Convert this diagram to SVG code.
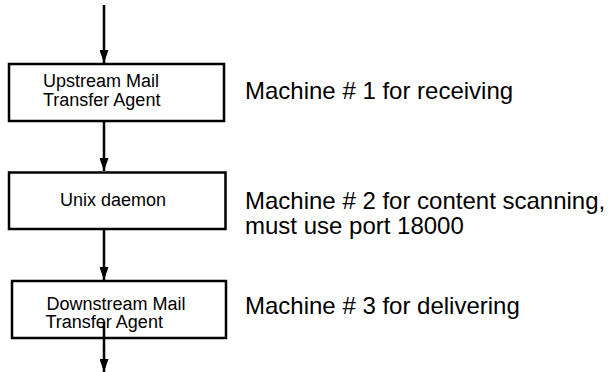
<svg xmlns="http://www.w3.org/2000/svg" width="608" height="372" viewBox="0 0 608 372">
<defs>
<style>
.box{fill:#fff;stroke:#000;stroke-width:2.5}
.bt{font-family:"Liberation Sans",Arial,sans-serif;font-size:18px;fill:#000}
.mt{font-family:"Liberation Sans",Arial,sans-serif;font-size:24px;fill:#000}
.edge{stroke:#000;stroke-width:2.5;fill:none;marker-end:url(#ah)}
</style>
<marker id="ah" markerWidth="5.2" markerHeight="3.6" refX="5.2" refY="1.8" orient="auto" markerUnits="strokeWidth">
<path d="M0,0 L5.2,1.8 L0,3.6 Z" fill="#000"/>
</marker>
</defs>
<g id="connectors">
<line class="edge" x1="104" y1="5" x2="104" y2="63"/>
<line class="edge" x1="104" y1="121" x2="104" y2="171"/>
<line class="edge" x1="104" y1="230" x2="104" y2="280"/>
<line class="edge" x1="104" y1="322" x2="104" y2="372"/>
</g>
<g id="node-upstream">
<rect class="box" x="9" y="64" width="215" height="57"/>
<text class="bt" x="43" y="87">Upstream Mail</text>
<text class="bt" x="43" y="106">Transfer Agent</text>
</g>
<g id="node-unix">
<rect class="box" x="9" y="172.5" width="216.5" height="56.5"/>
<text class="bt" x="60" y="206">Unix daemon</text>
</g>
<g id="node-downstream">
<rect class="box" x="12" y="281" width="214" height="57"/>
<text class="bt" x="46.5" y="310">Downstream Mail</text>
<text class="bt" x="45.5" y="328">Transfer Agent</text>
</g>
<line x1="104" y1="322" x2="104" y2="338" stroke="#000" stroke-width="2.5"/>
<g id="label-1">
<text class="mt" x="245" y="99">Machine # 1 for receiving</text>
</g>
<g id="label-2">
<text class="mt" x="245" y="209">Machine # 2 for content scanning,</text>
<text class="mt" x="245" y="234">must use port 18000</text>
</g>
<g id="label-3">
<text class="mt" x="245" y="314">Machine # 3 for delivering</text>
</g>
</svg>
